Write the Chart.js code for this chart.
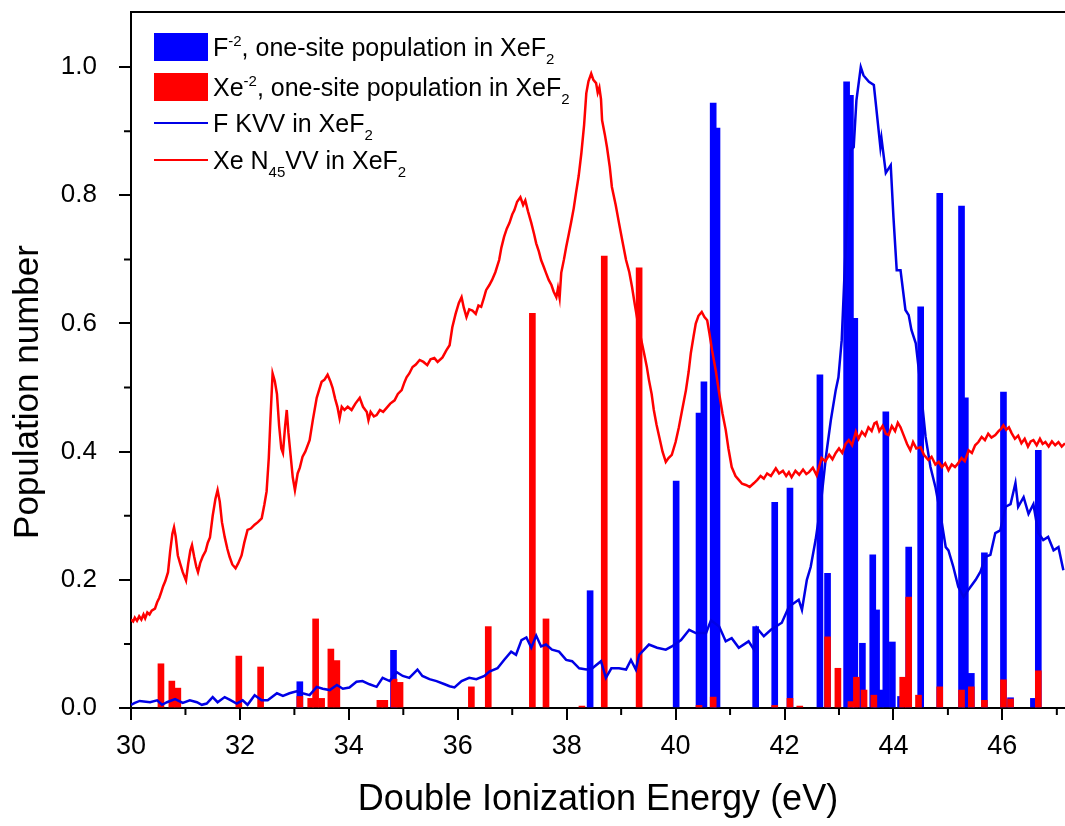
<!DOCTYPE html>
<html>
<head>
<meta charset="utf-8">
<script src="https://cdn.jsdelivr.net/npm/chart.js@4.4.1/dist/chart.umd.min.js"></script>
<style>
  body { margin: 0; background: #fff; }
  canvas { display: block; }
</style>
</head>
<body>
<canvas id="chart1" width="1065" height="826"></canvas>
<script>
// F^-2 one-site populations (blue bars)
var fEnergy = [33.10, 34.82, 38.43, 40.01, 40.43, 40.52, 40.69, 40.76, 41.47, 41.82, 42.10, 42.65, 42.79,
  43.14, 43.21, 43.29, 43.43, 43.62, 43.69, 43.76, 43.86, 43.98, 44.13, 44.28, 44.50, 44.85, 45.25, 45.32,
  45.43, 45.67, 46.02, 46.15, 46.57, 46.66];
var fPop = [0.041, 0.090, 0.183, 0.354, 0.460, 0.509, 0.944, 0.905, 0.127, 0.321, 0.343, 0.520, 0.210,
  0.977, 0.956, 0.608, 0.101, 0.239, 0.153, 0.028, 0.462, 0.103, 0.018, 0.251, 0.626, 0.803, 0.783, 0.484,
  0.054, 0.242, 0.493, 0.016, 0.015, 0.402];

// Xe^-2 one-site populations (red bars)
var xeEnergy = [30.55, 30.75, 30.86, 31.98, 32.38, 33.10, 33.30, 33.39, 33.50, 33.67, 33.78, 34.57, 34.66,
  34.83, 34.94, 36.25, 36.56, 37.37, 37.62, 38.28, 38.69, 39.33, 40.43, 40.69, 41.82, 42.10, 42.28, 42.79,
  42.98, 43.22, 43.32, 43.46, 43.64, 44.17, 44.28, 44.46, 44.85, 45.25, 45.43, 45.67, 46.02, 46.15, 46.66];
var xePop = [0.069, 0.042, 0.031, 0.081, 0.064, 0.018, 0.015, 0.139, 0.015, 0.092, 0.074, 0.012, 0.012,
  0.045, 0.040, 0.033, 0.127, 0.616, 0.139, 0.003, 0.705, 0.687, 0.004, 0.017, 0.004, 0.015, 0.003, 0.111,
  0.062, 0.010, 0.048, 0.028, 0.020, 0.048, 0.173, 0.020, 0.033, 0.028, 0.033, 0.012, 0.044, 0.014, 0.058];

// F KVV spectrum (blue line)
var fkvvE = [30.00, 30.07, 30.16, 30.35, 30.48, 30.57, 30.66, 30.81, 30.95, 31.08, 31.21, 31.30, 31.39, 31.50,
  31.59, 31.72, 31.81, 31.94, 32.05, 32.14, 32.27, 32.40, 32.51, 32.68, 32.79, 32.91, 33.04, 33.15, 33.28,
  33.41, 33.52, 33.65, 33.78, 33.89, 34.01, 34.14, 34.25, 34.38, 34.51, 34.62, 34.75, 34.88, 34.99, 35.11,
  35.26, 35.35, 35.48, 35.61, 35.76, 35.85, 35.94, 36.07, 36.21, 36.34, 36.49, 36.58, 36.73, 36.85, 36.98,
  37.07, 37.17, 37.26, 37.35, 37.44, 37.53, 37.62, 37.73, 37.86, 37.99, 38.10, 38.23, 38.36, 38.47, 38.63,
  38.72, 38.82, 38.96, 39.09, 39.18, 39.27, 39.33, 39.51, 39.66, 39.82, 39.93, 40.10, 40.25, 40.37, 40.56,
  40.65, 40.80, 40.92, 41.03, 41.16, 41.34, 41.44, 41.49, 41.62, 41.75, 41.95, 42.08, 42.26, 42.32, 42.41,
  42.48, 42.57, 42.66, 42.76, 42.85, 42.94, 42.99, 43.05, 43.12, 43.21, 43.27, 43.32, 43.40, 43.45, 43.55,
  43.64, 43.67, 43.76, 43.78, 43.86, 43.95, 44.00, 44.06, 44.13, 44.22, 44.28, 44.33, 44.41, 44.46, 44.59,
  44.68, 44.77, 44.86, 44.96, 45.01, 45.10, 45.19, 45.29, 45.38, 45.51, 45.60, 45.69, 45.78, 45.87, 45.96,
  46.06, 46.15, 46.24, 46.29, 46.39, 46.48, 46.57, 46.66, 46.75, 46.84, 46.94, 47.03, 47.12];
var fkvvP = [0.005, 0.008, 0.011, 0.009, 0.012, 0.005, 0.009, 0.014, 0.008, 0.012, 0.009, 0.005, 0.007, 0.017,
  0.009, 0.017, 0.013, 0.007, 0.012, 0.005, 0.020, 0.012, 0.012, 0.023, 0.019, 0.023, 0.026, 0.023, 0.020,
  0.033, 0.030, 0.028, 0.036, 0.030, 0.032, 0.041, 0.042, 0.037, 0.033, 0.047, 0.042, 0.056, 0.050, 0.047,
  0.060, 0.050, 0.045, 0.042, 0.037, 0.034, 0.032, 0.042, 0.047, 0.045, 0.050, 0.057, 0.062, 0.075, 0.088,
  0.083, 0.106, 0.110, 0.094, 0.113, 0.096, 0.099, 0.091, 0.088, 0.075, 0.073, 0.062, 0.060, 0.062, 0.073,
  0.047, 0.062, 0.062, 0.060, 0.075, 0.060, 0.083, 0.099, 0.094, 0.091, 0.096, 0.106, 0.122, 0.117, 0.117,
  0.137, 0.127, 0.104, 0.109, 0.094, 0.104, 0.091, 0.125, 0.112, 0.122, 0.133, 0.158, 0.169, 0.153, 0.200,
  0.220, 0.262, 0.314, 0.392, 0.449, 0.496, 0.516, 0.574, 0.714, 0.870, 0.875, 0.948, 1.000, 0.987, 0.977,
  0.972, 0.948, 0.875, 0.889, 0.835, 0.847, 0.766, 0.683, 0.683, 0.621, 0.613, 0.590, 0.569, 0.532, 0.423,
  0.376, 0.345, 0.304, 0.251, 0.246, 0.220, 0.189, 0.173, 0.185, 0.200, 0.213, 0.236, 0.239, 0.273, 0.277,
  0.314, 0.318, 0.351, 0.314, 0.329, 0.303, 0.318, 0.273, 0.262, 0.267, 0.246, 0.251, 0.215];

// Xe N45VV spectrum (red line)
var xeE = [30.00, 30.04, 30.07, 30.11, 30.15, 30.19, 30.23, 30.26, 30.30, 30.34, 30.38, 30.44, 30.48, 30.52,
  30.56, 30.59, 30.63, 30.68, 30.72, 30.76, 30.79, 30.82, 30.86, 30.90, 30.95, 31.01, 31.05, 31.09, 31.12,
  31.16, 31.20, 31.23, 31.27, 31.32, 31.37, 31.41, 31.45, 31.50, 31.55, 31.59, 31.63, 31.67, 31.72, 31.77,
  31.81, 31.86, 31.92, 31.97, 32.03, 32.08, 32.14, 32.20, 32.27, 32.33, 32.40, 32.45, 32.49, 32.53, 32.56,
  32.60, 32.64, 32.68, 32.72, 32.76, 32.79, 32.83, 32.86, 32.89, 32.93, 32.97, 33.01, 33.06, 33.10, 33.15,
  33.20, 33.28, 33.34, 33.41, 33.46, 33.50, 33.55, 33.61, 33.66, 33.70, 33.75, 33.79, 33.83, 33.87, 33.92,
  33.98, 34.05, 34.12, 34.20, 34.26, 34.33, 34.36, 34.40, 34.46, 34.51, 34.57, 34.63, 34.69, 34.76, 34.84,
  34.90, 34.97, 35.02, 35.06, 35.11, 35.17, 35.23, 35.30, 35.37, 35.44, 35.50, 35.57, 35.63, 35.72, 35.79,
  35.85, 35.90, 35.96, 36.02, 36.07, 36.11, 36.16, 36.21, 36.27, 36.33, 36.38, 36.43, 36.48, 36.52, 36.58,
  36.63, 36.69, 36.76, 36.80, 36.85, 36.90, 36.95, 37.00, 37.04, 37.09, 37.15, 37.20, 37.24, 37.29, 37.35,
  37.40, 37.44, 37.49, 37.53, 37.58, 37.62, 37.67, 37.72, 37.76, 37.81, 37.84, 37.87, 37.90, 37.95, 37.99,
  38.04, 38.08, 38.13, 38.17, 38.22, 38.27, 38.32, 38.36, 38.40, 38.45, 38.49, 38.54, 38.57, 38.60, 38.63,
  38.65, 38.70, 38.74, 38.79, 38.83, 38.90, 38.96, 39.02, 39.09, 39.15, 39.20, 39.25, 39.31, 39.36, 39.42,
  39.47, 39.51, 39.56, 39.60, 39.65, 39.70, 39.76, 39.82, 39.87, 39.93, 40.00, 40.06, 40.12, 40.19, 40.24,
  40.28, 40.33, 40.37, 40.42, 40.48, 40.53, 40.58, 40.62, 40.67, 40.74, 40.80, 40.86, 40.92, 40.97, 41.03,
  41.10, 41.16, 41.22, 41.29, 41.36, 41.44, 41.50, 41.56, 41.62, 41.68, 41.75, 41.84, 41.90, 41.97, 42.03,
  42.08, 42.13, 42.20, 42.27, 42.34, 42.40, 42.45, 42.52, 42.59, 42.64, 42.68, 42.75, 42.82, 42.88, 42.94,
  43.00, 43.06, 43.12, 43.18, 43.24, 43.31, 43.36, 43.42, 43.48, 43.54, 43.60, 43.65, 43.69, 43.74, 43.80,
  43.86, 43.91, 43.97, 44.03, 44.08, 44.13, 44.19, 44.25, 44.31, 44.36, 44.42, 44.50, 44.56, 44.64, 44.70,
  44.77, 44.83, 44.89, 44.95, 45.01, 45.07, 45.13, 45.19, 45.25, 45.31, 45.38, 45.44, 45.50, 45.56, 45.62,
  45.68, 45.74, 45.80, 45.87, 45.93, 45.98, 46.02, 46.07, 46.12, 46.17, 46.23, 46.29, 46.35, 46.41, 46.47,
  46.52, 46.57, 46.63, 46.69, 46.74, 46.79, 46.85, 46.91, 46.97, 47.03, 47.09, 47.15];
var xeP = [0.138, 0.135, 0.141, 0.136, 0.143, 0.138, 0.146, 0.140, 0.149, 0.146, 0.152, 0.155, 0.165, 0.172,
  0.182, 0.190, 0.198, 0.212, 0.245, 0.272, 0.282, 0.268, 0.238, 0.226, 0.212, 0.199, 0.225, 0.246, 0.254,
  0.236, 0.220, 0.212, 0.226, 0.237, 0.245, 0.258, 0.266, 0.300, 0.326, 0.340, 0.322, 0.290, 0.267, 0.248,
  0.236, 0.224, 0.218, 0.226, 0.238, 0.258, 0.278, 0.280, 0.286, 0.290, 0.296, 0.318, 0.338, 0.390, 0.450,
  0.522, 0.510, 0.490, 0.440, 0.405, 0.398, 0.440, 0.465, 0.430, 0.395, 0.360, 0.340, 0.366, 0.375, 0.392,
  0.400, 0.418, 0.450, 0.484, 0.498, 0.509, 0.512, 0.520, 0.510, 0.500, 0.482, 0.470, 0.452, 0.470, 0.465,
  0.470, 0.465, 0.475, 0.484, 0.470, 0.462, 0.449, 0.462, 0.455, 0.457, 0.465, 0.462, 0.468, 0.475, 0.480,
  0.490, 0.496, 0.508, 0.516, 0.522, 0.532, 0.536, 0.543, 0.540, 0.535, 0.544, 0.546, 0.540, 0.547, 0.558,
  0.566, 0.594, 0.615, 0.632, 0.641, 0.625, 0.610, 0.622, 0.620, 0.615, 0.628, 0.626, 0.640, 0.652, 0.660,
  0.668, 0.680, 0.699, 0.718, 0.735, 0.748, 0.757, 0.770, 0.777, 0.790, 0.797, 0.785, 0.792, 0.775, 0.757,
  0.740, 0.725, 0.712, 0.699, 0.688, 0.679, 0.668, 0.660, 0.650, 0.641, 0.655, 0.640, 0.679, 0.700, 0.719,
  0.740, 0.757, 0.780, 0.803, 0.830, 0.866, 0.910, 0.959, 0.978, 0.990, 0.980, 0.975, 0.960, 0.968, 0.950,
  0.917, 0.895, 0.875, 0.845, 0.813, 0.785, 0.757, 0.730, 0.699, 0.680, 0.657, 0.630, 0.600, 0.578, 0.554,
  0.533, 0.512, 0.490, 0.465, 0.442, 0.423, 0.400, 0.384, 0.390, 0.395, 0.415, 0.438, 0.465, 0.496, 0.525,
  0.554, 0.580, 0.600, 0.612, 0.618, 0.610, 0.605, 0.585, 0.558, 0.525, 0.491, 0.460, 0.434, 0.405, 0.376,
  0.362, 0.356, 0.350, 0.348, 0.345, 0.351, 0.356, 0.362, 0.358, 0.366, 0.362, 0.374, 0.366, 0.370, 0.362,
  0.368, 0.360, 0.370, 0.364, 0.372, 0.365, 0.368, 0.375, 0.363, 0.378, 0.390, 0.385, 0.395, 0.388, 0.398,
  0.405, 0.398, 0.412, 0.418, 0.410, 0.431, 0.420, 0.431, 0.425, 0.438, 0.432, 0.444, 0.446, 0.432, 0.440,
  0.428, 0.426, 0.440, 0.432, 0.445, 0.438, 0.425, 0.412, 0.402, 0.415, 0.405, 0.407, 0.395, 0.387, 0.392,
  0.380, 0.384, 0.376, 0.382, 0.371, 0.380, 0.376, 0.382, 0.390, 0.385, 0.402, 0.398, 0.410, 0.415, 0.423,
  0.418, 0.428, 0.422, 0.426, 0.432, 0.436, 0.441, 0.434, 0.438, 0.429, 0.420, 0.425, 0.413, 0.420, 0.408,
  0.416, 0.418, 0.410, 0.420, 0.412, 0.415, 0.408, 0.416, 0.410, 0.415, 0.408, 0.413];

var xTicksMajor = [30, 32, 34, 36, 38, 40, 42, 44, 46];
var xTicksMinor = [31, 33, 35, 37, 39, 41, 43, 45, 47];
var yTicksMajor = [0, 0.2, 0.4, 0.6, 0.8, 1.0];
var yTicksMinor = [0.1, 0.3, 0.5, 0.7, 0.9];

var FONT = '"Liberation Sans", Arial, sans-serif';
Chart.defaults.font.family = FONT;
Chart.defaults.color = '#000';

function pts(xs, ys) {
  return xs.map(function (x, i) { return { x: x, y: ys[i] }; });
}

// legend drawn by hand so sub/superscripts come out right
var legendRows = [
  { kind: 'box', color: '#0000ff', y: 47, text: [['F', ''], ['-2', 'sup'], [', one-site population in XeF', ''], ['2', 'sub']] },
  { kind: 'box', color: '#ff0000', y: 87, text: [['Xe', ''], ['-2', 'sup'], [', one-site population in XeF', ''], ['2', 'sub']] },
  { kind: 'line', color: '#0000e6', y: 123, text: [['F KVV in XeF', ''], ['2', 'sub']] },
  { kind: 'line', color: '#ff0000', y: 160, text: [['Xe N', ''], ['45', 'sub'], ['VV in XeF', ''], ['2', 'sub']] }
];

function richText(ctx, parts, x, y, size) {
  parts.forEach(function (p) {
    var s = size, dy = 0;
    if (p[1] === 'sup') { s = size * 0.6; dy = -size * 0.42; }
    if (p[1] === 'sub') { s = size * 0.6; dy = size * 0.32; }
    ctx.font = s + 'px ' + FONT;
    ctx.fillText(p[0], x, y + dy);
    x += ctx.measureText(p[0]).width;
  });
}

var extras = {
  id: 'extras',
  afterDraw: function (chart) {
    var ctx = chart.ctx, a = chart.chartArea;
    var xs = chart.scales.x, ys = chart.scales.y;
    ctx.save();
    ctx.strokeStyle = '#000';
    ctx.lineWidth = 2;
    // top frame line
    ctx.beginPath();
    ctx.moveTo(a.left, a.top);
    ctx.lineTo(a.right, a.top);
    ctx.stroke();
    // minor ticks
    ctx.beginPath();
    xTicksMinor.forEach(function (v) {
      var p = xs.getPixelForValue(v);
      if (p > a.right) return;
      ctx.moveTo(p, a.bottom);
      ctx.lineTo(p, a.bottom + 7);
    });
    yTicksMinor.forEach(function (v) {
      var p = ys.getPixelForValue(v);
      ctx.moveTo(a.left - 7, p);
      ctx.lineTo(a.left, p);
    });
    ctx.stroke();

    // y axis title, sitting a bit below the middle as in the original
    ctx.fillStyle = '#000';
    ctx.save();
    ctx.translate(28, 392);
    ctx.rotate(-Math.PI / 2);
    ctx.textAlign = 'center';
    ctx.textBaseline = 'middle';
    ctx.font = '35px ' + FONT;
    ctx.fillText('Population number', 0, 0);
    ctx.restore();

    // legend
    ctx.textBaseline = 'alphabetic';
    ctx.textAlign = 'left';
    legendRows.forEach(function (r) {
      if (r.kind === 'box') {
        ctx.fillStyle = r.color;
        ctx.fillRect(154, r.y - 14, 54, 28);
      } else {
        ctx.strokeStyle = r.color;
        ctx.lineWidth = 2;
        ctx.beginPath();
        ctx.moveTo(154, r.y);
        ctx.lineTo(208, r.y);
        ctx.stroke();
      }
      ctx.fillStyle = '#000';
      richText(ctx, r.text, 213, r.y + 9, 25);
    });
    ctx.restore();
  }
};

var ctx = document.getElementById('chart1').getContext('2d');
var chart = new Chart(ctx, {
  type: 'bar',
  data: {
    datasets: [{
      type: 'line',
      label: 'Xe N45VV in XeF2',
      data: pts(xeE, xeP),
      borderColor: '#ff0000',
      borderWidth: 2.5,
      pointRadius: 0,
      tension: 0,
      order: 0
    }, {
      type: 'line',
      label: 'F KVV in XeF2',
      data: pts(fkvvE, fkvvP),
      borderColor: '#0000e6',
      borderWidth: 2.5,
      pointRadius: 0,
      tension: 0,
      order: 1
    }, {
      label: 'Xe-2, one-site population in XeF2',
      data: pts(xeEnergy, xePop),
      backgroundColor: '#ff0000',
      barThickness: 6,
      grouped: false,
      order: 2
    }, {
      label: 'F-2, one-site population in XeF2',
      data: pts(fEnergy, fPop),
      backgroundColor: '#0000ff',
      barThickness: 6,
      grouped: false,
      order: 3
    }]
  },
  options: {
    responsive: false,
    animation: false,
    layout: { padding: { top: 12, right: 0, left: 0, bottom: 0 } },
    plugins: {
      legend: { display: false },
      tooltip: { enabled: false }
    },
    scales: {
      x: {
        type: 'linear',
        min: 30,
        max: 47.15,
        offset: false,
        afterBuildTicks: function (s) { s.ticks = xTicksMajor.map(function (v) { return { value: v }; }); },
        afterFit: function (s) { s.height = 118; s.paddingLeft = 0; s.paddingRight = 0; },
        grid: { display: true, drawOnChartArea: false, offset: false, tickLength: 12, color: '#000', lineWidth: 2 },
        border: { display: true, color: '#000', width: 2 },
        ticks: { font: { size: 27 }, padding: 10, maxRotation: 0, callback: function (v) { return v; } },
        title: { display: true, text: 'Double Ionization Energy (eV)', font: { size: 36 }, padding: { bottom: 4 } }
      },
      y: {
        min: 0,
        max: 1.086,
        afterBuildTicks: function (s) { s.ticks = yTicksMajor.map(function (v) { return { value: v }; }); },
        afterFit: function (s) { s.width = 131; s.paddingTop = 0; s.paddingBottom = 0; },
        grid: { display: true, drawOnChartArea: false, tickLength: 12, color: '#000', lineWidth: 2 },
        border: { display: true, color: '#000', width: 2 },
        ticks: { font: { size: 26 }, padding: 22, callback: function (v) { return v.toFixed(1); } },
        title: { display: false }
      }
    }
  },
  plugins: [extras]
});
</script>
</body>
</html>
